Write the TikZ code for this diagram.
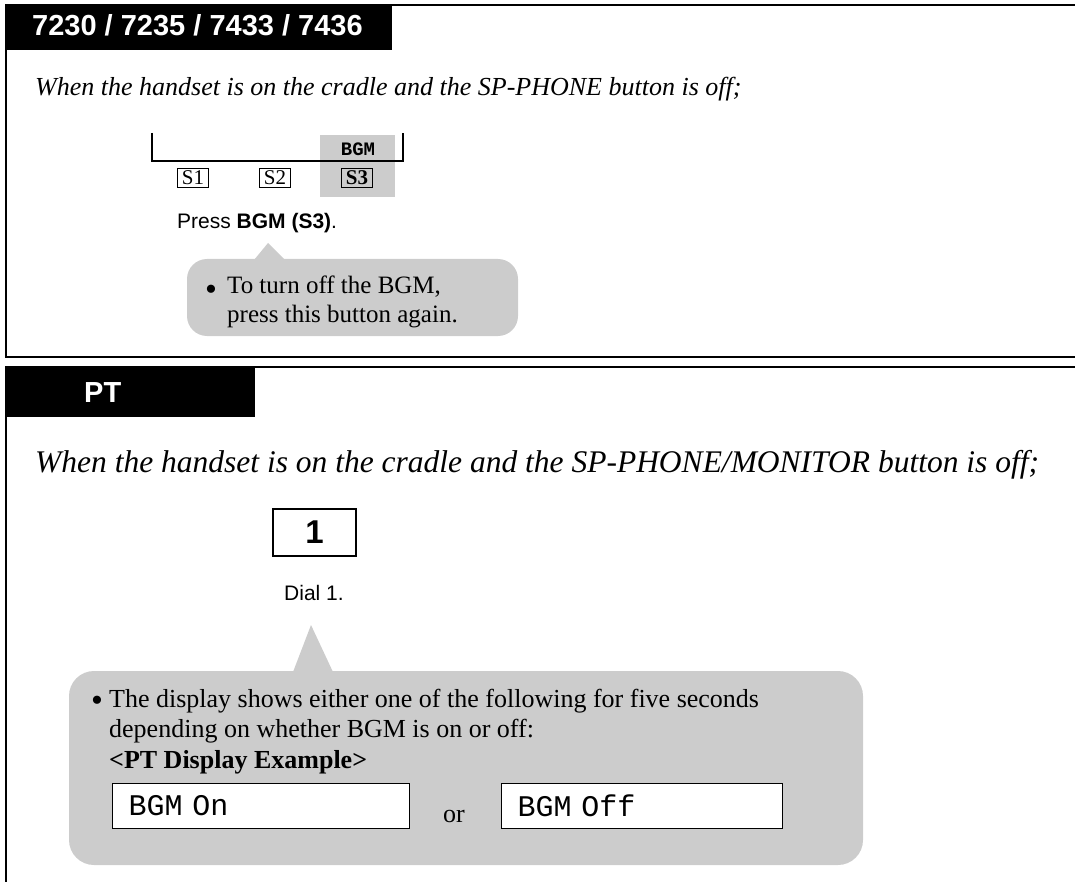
\documentclass[tikz,border=0pt]{standalone}
\usepackage{fontspec}
\setmainfont{Liberation Serif}
\setsansfont{Liberation Sans}
\setmonofont{Liberation Mono}
\definecolor{calloutgray}{HTML}{CCCCCC}

\begin{document}
\begin{tikzpicture}[x=1pt, y=-1pt,
  header/.style={font=\fontsize{29}{32}\selectfont\sffamily\bfseries,
    text=white, anchor=base west, inner sep=0},
  cond/.style={font=\fontsize{26}{30}\selectfont\itshape,
    anchor=base west, inner sep=0},
  note/.style={font=\fontsize{26}{29}\selectfont, anchor=base west,
    inner sep=0, text height=18, text depth=6},
  dot/.style={font=\fontsize{34}{34}\selectfont, anchor=base west, inner sep=0},
  caption/.style={font=\fontsize{21}{24}\selectfont\sffamily, inner sep=0},
  softkey/.style={draw, line width=0.9pt, font=\fontsize{21}{22}\selectfont,
    minimum width=31, minimum height=19, inner sep=0},
  lcd/.style={draw, fill=white, line width=1pt, minimum height=45,
    inner xsep=16, inner ysep=0, align=left, anchor=west,
    font=\fontsize{30}{31}\selectfont\ttfamily},
  frame/.style={line width=2pt}]
  \useasboundingbox (0,0) rectangle (1075,882);

  % Section frames
  \fill (5,4) rectangle (392,50);
  \draw[frame] (392,5) -- (1075,5);
  \draw[frame] (6,5) -- (6,357) -- (1075,357);
  \fill (5,366) rectangle (255,417);
  \draw[frame] (255,367) -- (1075,367);
  \draw[frame] (6,417) -- (6,882);
  \node[header] (modelhead) at (32,36) {7230 / 7235 / 7433 / 7436};
  \node[header] (pthead) at (84,402) {PT};

  % Soft keys
  \node[cond] (condone) at (35,96)
    {When the handset is on the cradle and the SP-PHONE button is off;};
  \fill[calloutgray] (320,135) rectangle (395,197);
  \draw[line width=1.5pt] (152,133) -- (152,161) -- (403,161) -- (403,133);
  \node[font=\fontsize{19}{20}\selectfont\ttfamily\bfseries, inner sep=0]
    (bgmlabel) at (358,149) {BGM};
  \node[softkey] (sone) at (193,178) {S1};
  \node[softkey] (stwo) at (275,178) {S2};
  \node[softkey] (sthree) at (357,178) {\textbf{S3}};
  \node[caption, anchor=base west] (press) at (177,229)
    {Press \textbf{BGM (S3)}.};

  % First callout
  \fill[calloutgray, rounded corners=20] (187,259) rectangle (518,336);
  \fill[calloutgray] (254,260) -- (268,243) -- (285,260) -- cycle;
  \node[dot] (offdot) at (205,301) {\textbullet};
  \node[font=\fontsize{25}{28.5}\selectfont, align=left, inner sep=0,
    anchor=north west] (offtip) at (227,276)
    {To turn off the BGM,\\press this button again.};

  % Dial key
  \node[cond, font=\fontsize{31.5}{34}\selectfont\itshape] (condtwo)
    at (35,472) {When the handset is on the cradle
    and the SP-PHONE/MONITOR button is off;};
  \node[draw, line width=1.5pt, minimum width=83, minimum height=47,
    font=\fontsize{33}{34}\selectfont\sffamily\bfseries] (keyone)
    at (314.5,532.5) {1};
  \node[caption] (dialcap) at (314,593) {Dial 1.};

  % Second callout
  \fill[calloutgray, rounded corners=25] (69,671) rectangle (863,865);
  \fill[calloutgray] (293,672) -- (311,625) -- (333,672) -- cycle;
  \node[dot] (showdot) at (91,711) {\textbullet};
  \node[note] (showa) at (109,707)
    {The display shows either one of the following for five seconds};
  \node[note] (showb) at (109,737)
    {depending on whether BGM is on or off:};
  \node[note] (showc) at (109,768) {\textbf{<PT Display Example>}};
  \node[lcd, text width=265] (lcdon) at (112,805.5) {BGM On};
  \node[note] (ortext) at (443,822) {or};
  \node[lcd, text width=249] (lcdoff) at (501,805.5) {BGM Off};
\end{tikzpicture}
\end{document}
